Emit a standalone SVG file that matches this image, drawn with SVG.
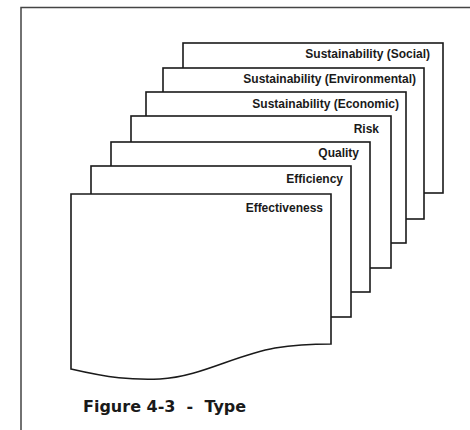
<svg xmlns="http://www.w3.org/2000/svg" width="470" height="430" viewBox="0 0 470 430">
<style>
.page{fill:#fff;stroke:#1a1a1a;stroke-width:1.6}
.lbl{font-family:"Liberation Sans",Arial,sans-serif;font-weight:bold;font-size:12px;fill:#1a1a1a;text-anchor:end}
.cap{font-family:"DejaVu Sans",Verdana,sans-serif;font-weight:bold;font-size:16px;fill:#1a1a1a;white-space:pre}
</style>
<rect width="470" height="430" fill="#fff"/>
<path d="M21,430 V7.5 H470" fill="none" stroke="#444" stroke-width="1.5"/>
<g id="social"><rect class="page" x="183" y="43" width="260" height="150"/><text class="lbl" x="430" y="58">Sustainability (Social)</text></g>
<g id="environmental"><rect class="page" x="163" y="68" width="261" height="151"/><text class="lbl" x="416" y="83">Sustainability (Environmental)</text></g>
<g id="economic"><rect class="page" x="146" y="92" width="260" height="151"/><text class="lbl" x="399" y="108">Sustainability (Economic)</text></g>
<g id="risk"><rect class="page" x="131" y="116" width="260" height="152"/><text class="lbl" x="379" y="133">Risk</text></g>
<g id="quality"><rect class="page" x="111" y="142" width="259" height="150"/><text class="lbl" x="359" y="157">Quality</text></g>
<g id="efficiency"><rect class="page" x="91" y="166" width="260" height="151"/><text class="lbl" x="343" y="183">Efficiency</text></g>
<g id="effectiveness"><path class="page" d="M71,194 H331 V344 C320,344 300,344 275,348 C235,355 200,377 160,379 C130,380 110,378 71,369 Z"/><text class="lbl" x="323" y="212">Effectiveness</text></g>
<g id="connectors"></g>
<text class="cap" x="83" y="412" xml:space="preserve">Figure 4-3  -  Type</text>
</svg>
